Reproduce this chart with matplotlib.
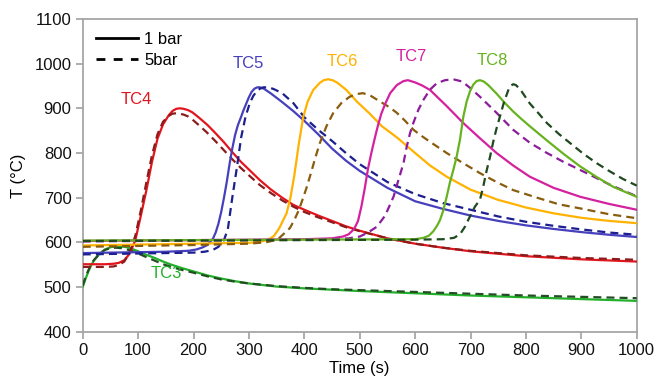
import matplotlib
matplotlib.use("Agg")
import matplotlib.pyplot as plt
from matplotlib.lines import Line2D

plt.rcParams['font.family'] = ['Liberation Sans', 'DejaVu Sans']

# ---- thermocouple readings, 1 bar (solid) and 5 bar (dashed) ----
tc3_1_t = [0, 5, 10, 15, 20, 30, 40, 50, 60, 70, 80, 90, 100, 115, 130, 145, 160, 180, 200, 225, 250, 275, 300, 350, 400, 450, 500, 600, 700, 800, 900, 1000]
tc3_1_T = [500, 518, 534, 548, 559, 574, 584, 589, 591, 591, 589, 585, 580, 572, 565, 557, 550, 542, 535, 526, 519, 513, 508, 501, 497, 494, 491, 486, 481, 477, 473, 469]
tc3_5_t = [0, 5, 10, 15, 20, 30, 40, 50, 60, 70, 80, 90, 100, 115, 130, 145, 160, 180, 200, 225, 250, 275, 300, 350, 400, 450, 500, 600, 700, 800, 900, 1000]
tc3_5_T = [503, 522, 537, 550, 560, 574, 583, 587, 588, 587, 584, 580, 575, 567, 559, 551, 545, 538, 532, 524, 517, 512, 508, 502, 498, 495, 493, 489, 485, 481, 478, 475]

tc4_1_t = [0, 20, 40, 55, 65, 75, 85, 95, 105, 115, 125, 135, 145, 155, 162, 169, 175, 182, 190, 198, 210, 225, 240, 255, 270, 285, 300, 320, 340, 360, 380, 400, 425, 450, 475, 500, 550, 600, 650, 700, 800, 900, 1000]
tc4_1_T = [551, 551, 551, 552, 554, 560, 575, 605, 660, 717, 780, 832, 864, 884, 894, 899, 900, 899, 896, 891, 879, 863, 844, 824, 802, 781, 763, 739, 718, 700, 684, 673, 660, 648, 636, 626, 609, 597, 588, 580, 569, 562, 557]
tc4_5_t = [0, 20, 40, 55, 65, 75, 85, 95, 105, 115, 125, 135, 145, 155, 162, 169, 175, 182, 190, 198, 210, 225, 240, 255, 270, 285, 300, 320, 340, 360, 380, 400, 425, 450, 475, 500, 550, 600, 650, 700, 800, 900, 1000]
tc4_5_T = [545, 545, 545, 546, 549, 557, 578, 615, 672, 735, 795, 842, 870, 883, 888, 889, 888, 886, 882, 875, 862, 845, 826, 806, 786, 767, 750, 728, 710, 694, 680, 668, 656, 645, 634, 625, 609, 597, 588, 581, 571, 565, 561]

tc5_1_t = [0, 50, 100, 150, 190, 205, 215, 225, 235, 240, 245, 250, 255, 260, 265, 270, 275, 280, 285, 290, 295, 300, 305, 310, 315, 320, 327, 340, 360, 380, 400, 425, 450, 475, 500, 550, 600, 650, 700, 750, 800, 850, 900, 950, 1000]
tc5_1_T = [576, 577, 578, 579, 581, 584, 588, 594, 608, 622, 642, 668, 700, 735, 775, 810, 840, 862, 878, 895, 910, 925, 937, 944, 947, 947, 944, 933, 914, 894, 872, 842, 810, 783, 760, 722, 692, 675, 660, 648, 638, 630, 623, 617, 612]
tc5_5_t = [0, 50, 100, 150, 200, 220, 235, 245, 255, 262, 270, 278, 286, 294, 302, 308, 314, 320, 326, 332, 338, 345, 360, 380, 400, 425, 450, 475, 500, 550, 600, 650, 700, 750, 800, 850, 900, 950, 1000]
tc5_5_T = [573, 574, 575, 576, 577, 579, 583, 590, 605, 630, 700, 765, 835, 882, 913, 928, 938, 944, 947, 947, 946, 943, 934, 912, 880, 852, 827, 800, 775, 735, 708, 688, 673, 658, 646, 637, 629, 622, 617]

tc6_1_t = [0, 100, 200, 300, 320, 335, 345, 355, 362, 368, 375, 382, 390, 398, 406, 416, 428, 435, 443, 451, 460, 476, 495, 519, 540, 567, 600, 627, 657, 700, 750, 777, 800, 850, 900, 950, 1000]
tc6_1_T = [593, 595, 597, 599, 601, 606, 614, 632, 650, 665, 700, 750, 820, 880, 915, 941, 957, 963, 965, 963, 957, 941, 915, 887, 860, 835, 800, 772, 747, 718, 695, 686, 678, 665, 655, 648, 643]
tc6_5_t = [0, 100, 200, 300, 330, 345, 355, 362, 368, 374, 382, 390, 398, 404, 412, 420, 428, 440, 452, 467, 482, 495, 506, 520, 537, 553, 567, 582, 597, 612, 627, 657, 687, 717, 747, 777, 820, 860, 898, 950, 1000]
tc6_5_T = [590, 592, 594, 597, 600, 604, 610, 618, 625, 632, 650, 672, 700, 722, 755, 790, 822, 860, 889, 912, 926, 932, 934, 928, 915, 903, 890, 872, 852, 838, 825, 800, 777, 755, 735, 717, 700, 685, 676, 663, 654]

tc7_1_t = [0, 100, 200, 300, 400, 450, 470, 480, 490, 497, 503, 509, 515, 521, 527, 533, 539, 546, 555, 567, 579, 587, 600, 613, 627, 657, 687, 717, 747, 777, 807, 850, 898, 950, 1000]
tc7_1_T = [603, 604, 605, 606, 607, 609, 613, 618, 630, 648, 680, 720, 765, 800, 832, 862, 888, 910, 934, 952, 961, 963, 958, 951, 941, 905, 867, 833, 800, 772, 747, 722, 702, 686, 673]
tc7_5_t = [0, 100, 200, 300, 400, 450, 480, 500, 515, 531, 546, 561, 570, 579, 585, 591, 597, 606, 615, 627, 639, 654, 669, 685, 700, 717, 747, 777, 807, 838, 868, 898, 950, 1000]
tc7_5_T = [602, 603, 604, 605, 606, 607, 609, 613, 622, 635, 660, 702, 740, 777, 815, 845, 868, 897, 919, 942, 956, 963, 965, 960, 945, 926, 890, 852, 823, 800, 780, 762, 730, 703]

tc8_1_t = [0, 200, 400, 600, 615, 625, 633, 640, 645, 651, 657, 663, 669, 675, 681, 687, 693, 699, 705, 711, 717, 724, 732, 747, 762, 777, 792, 807, 838, 868, 898, 928, 958, 1000]
tc8_1_T = [604, 605, 606, 607, 610, 615, 625, 638, 650, 672, 702, 735, 762, 792, 830, 881, 915, 938, 953, 961, 963, 960, 952, 933, 912, 893, 876, 860, 828, 798, 770, 746, 724, 702]
tc8_5_t = [0, 200, 400, 600, 650, 670, 681, 690, 699, 708, 717, 723, 729, 735, 741, 747, 753, 760, 768, 772, 777, 782, 790, 807, 822, 838, 860, 880, 904, 928, 950, 975, 1000]
tc8_5_T = [603, 604, 605, 606, 607, 610, 618, 635, 658, 680, 695, 725, 760, 790, 825, 855, 881, 912, 940, 950, 954, 952, 942, 911, 890, 867, 842, 822, 798, 777, 760, 742, 727]

series = [
    ("TC3", tc3_1_t, tc3_1_T, tc3_5_t, tc3_5_T, "#22b02a", "#234d23"),
    ("TC4", tc4_1_t, tc4_1_T, tc4_5_t, tc4_5_T, "#e3151c", "#8a1c1c"),
    ("TC5", tc5_1_t, tc5_1_T, tc5_5_t, tc5_5_T, "#4640bd", "#1c1f8f"),
    ("TC6", tc6_1_t, tc6_1_T, tc6_5_t, tc6_5_T, "#ffb200", "#8a5c0e"),
    ("TC7", tc7_1_t, tc7_1_T, tc7_5_t, tc7_5_T, "#d4219f", "#8c1c9b"),
    ("TC8", tc8_1_t, tc8_1_T, tc8_5_t, tc8_5_T, "#66b31f", "#1f4a1f"),
]

# curve labels: (name, time, temperature)
labels = [("TC3", 150, 531), ("TC4", 97, 920), ("TC5", 299, 1000),
          ("TC6", 468, 1005), ("TC7", 593, 1016), ("TC8", 740, 1008)]

x_ticks = [0, 100, 200, 300, 400, 500, 600, 700, 800, 900, 1000]
y_ticks = [400, 500, 600, 700, 800, 900, 1000, 1100]

fig = plt.figure(figsize=(6.57, 3.82), dpi=100)
ax = fig.add_axes([0.1259, 0.1317, 0.8432, 0.8186])

dash = (0, (3.6, 2.3))
colors = {}
for name, t1, T1, t5, T5, c1, c5 in series:
    colors[name] = c1
    ax.plot(t1, T1, color=c1, lw=1.6, solid_joinstyle='round', zorder=3)
    ax.plot(t5, T5, color=c5, lw=1.6, linestyle=dash, zorder=3)

for name, tx, ty in labels:
    ax.text(tx, ty, name, color=colors[name], fontsize=12, ha='center', va='center')

ax.set_xlim(0, 1000)
ax.set_ylim(400, 1100)
ax.set_xticks(x_ticks)
ax.set_yticks(y_ticks)
ax.tick_params(axis='both', direction='out', length=5, width=1.2, color='#a0a0a0',
               labelsize=12, labelcolor='#111111', pad=3)
for side in ['left', 'bottom', 'top', 'right']:
    ax.spines[side].set_color('#a6a6a6')
    ax.spines[side].set_linewidth(1.3)

ax.set_xlabel("Time (s)", fontsize=12, labelpad=2)
ax.set_ylabel("T (°C)", fontsize=12, labelpad=6)

handles = [Line2D([], [], color='black', lw=2.0),
           Line2D([], [], color='black', lw=2.0, linestyle=(0, (3.2, 3.0)))]
ax.legend(handles, ["1 bar", "5bar"], loc='upper left', frameon=False,
          fontsize=12, handlelength=2.5, handletextpad=0.4, labelspacing=0.35,
          borderaxespad=0.2, bbox_to_anchor=(0.006, 0.99))

fig.savefig("out.png", dpi=100)
